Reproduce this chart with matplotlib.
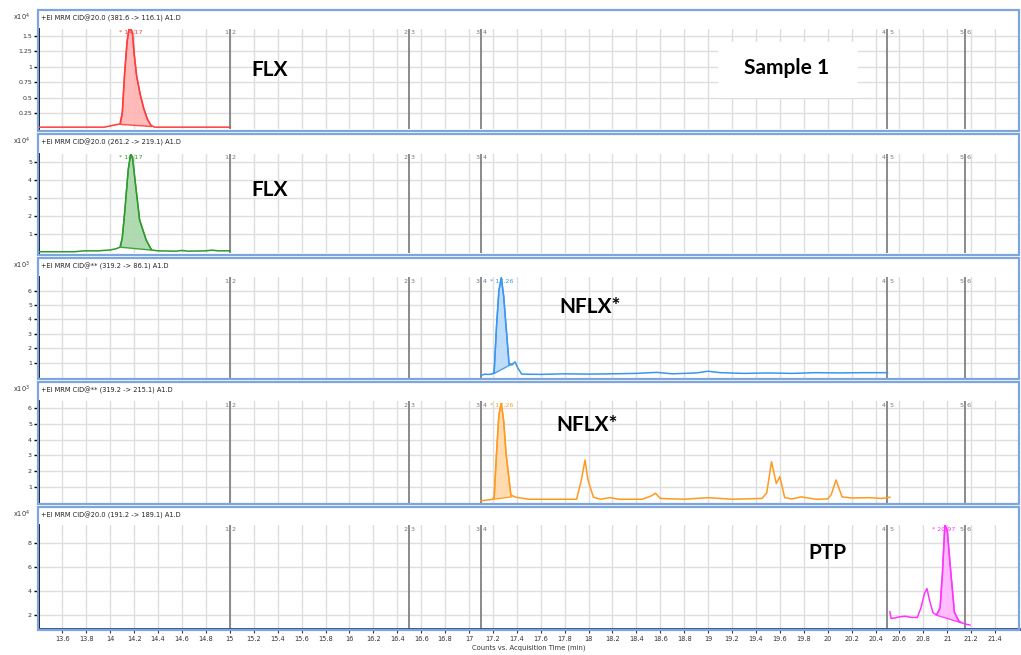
import matplotlib
matplotlib.use("Agg")
import matplotlib.pyplot as plt
from matplotlib.patches import Rectangle

# ---------------- data ----------------
x_ticks = [13.6, 13.8, 14.0, 14.2, 14.4, 14.6, 14.8, 15.0, 15.2, 15.4, 15.6, 15.8,
           16.0, 16.2, 16.4, 16.6, 16.8, 17.0, 17.2, 17.4, 17.6, 17.8, 18.0, 18.2,
           18.4, 18.6, 18.8, 19.0, 19.2, 19.4, 19.6, 19.8, 20.0, 20.2, 20.4, 20.6,
           20.8, 21.0, 21.2, 21.4]
x_tick_labels = ["13.6", "13.8", "14", "14.2", "14.4", "14.6", "14.8", "15", "15.2", "15.4",
                 "15.6", "15.8", "16", "16.2", "16.4", "16.6", "16.8", "17", "17.2", "17.4",
                 "17.6", "17.8", "18", "18.2", "18.4", "18.6", "18.8", "19", "19.2", "19.4",
                 "19.6", "19.8", "20", "20.2", "20.4", "20.6", "20.8", "21", "21.2", "21.4"]

segment_bounds = [15.0, 16.5, 17.1, 20.5, 21.15]
segment_left = ["1", "2", "3", "4", "5"]
segment_right = ["2", "3", "4", "5", "6"]

# Panel 1: FLX 381.6 -> 116.1 (x10^4)
flx1_x = [13.39, 13.6, 13.8, 13.95, 14.0, 14.05, 14.08, 14.10, 14.12, 14.14, 14.155, 14.17,
          14.185, 14.20, 14.22, 14.25, 14.28, 14.31, 14.34, 14.37, 14.5, 14.7, 14.9, 15.0]
flx1_y = [0.02, 0.02, 0.02, 0.02, 0.04, 0.06, 0.07, 0.25, 0.9, 1.4, 1.6, 1.62,
          1.55, 1.2, 0.85, 0.55, 0.32, 0.15, 0.05, 0.02, 0.02, 0.02, 0.02, 0.02]
flx1_fill = [(14.085, 0.065), (14.345, 0.03)]

# Panel 2: FLX 261.2 -> 219.1 (x10^4)
flx2_x = [13.39, 13.7, 13.78, 13.9, 14.0, 14.05, 14.08, 14.10, 14.12, 14.15, 14.17, 14.185,
          14.20, 14.245, 14.30, 14.345, 14.4, 14.55, 14.6, 14.65, 14.8, 14.85, 14.9, 15.0]
flx2_y = [0.03, 0.03, 0.08, 0.08, 0.13, 0.2, 0.28, 0.8, 2.2, 4.6, 5.45, 5.3,
          4.4, 1.8, 0.68, 0.13, 0.08, 0.06, 0.1, 0.06, 0.08, 0.12, 0.08, 0.08]
flx2_fill = [(14.085, 0.28), (14.345, 0.12)]

# Panel 3: NFLX 319.2 -> 86.1 (x10^3)
nflx1_x = [17.10, 17.13, 17.16, 17.19, 17.21, 17.23, 17.25, 17.27, 17.29, 17.31, 17.335, 17.36,
           17.385, 17.41, 17.44, 17.6, 17.8, 18.0, 18.2, 18.4, 18.57, 18.7, 18.9, 19.0,
           19.1, 19.3, 19.5, 19.7, 19.9, 20.1, 20.3, 20.5]
nflx1_y = [0.1, 0.2, 0.18, 0.2, 0.3, 3.5, 6.0, 6.9, 5.6, 3.5, 0.9, 0.85,
           1.05, 0.6, 0.2, 0.18, 0.22, 0.2, 0.22, 0.25, 0.32, 0.22, 0.28, 0.4,
           0.3, 0.25, 0.28, 0.25, 0.3, 0.28, 0.3, 0.3]
nflx1_fill = [(17.205, 0.22), (17.37, 0.95)]

# Panel 4: NFLX 319.2 -> 215.1 (x10^3)
nflx2_x = [17.10, 17.15, 17.19, 17.21, 17.23, 17.25, 17.27, 17.29, 17.31, 17.35, 17.39, 17.5,
           17.7, 17.9, 17.94, 17.97, 17.995, 18.04, 18.1, 18.18, 18.25, 18.45, 18.52, 18.56,
           18.6, 18.8, 19.0, 19.2, 19.45, 19.49, 19.53, 19.57, 19.60, 19.64, 19.7, 19.78,
           19.9, 20.0, 20.03, 20.07, 20.12, 20.2, 20.35, 20.45, 20.52]
nflx2_y = [0.1, 0.15, 0.18, 0.3, 3.1, 5.6, 6.3, 5.2, 3.1, 0.47, 0.33, 0.2,
           0.2, 0.2, 1.43, 2.7, 1.43, 0.33, 0.2, 0.3, 0.2, 0.2, 0.4, 0.58,
           0.25, 0.2, 0.3, 0.2, 0.25, 0.6, 2.6, 1.2, 1.64, 0.3, 0.22, 0.35,
           0.2, 0.22, 0.5, 1.43, 0.35, 0.28, 0.3, 0.25, 0.33]
nflx2_fill = [(17.205, 0.2), (17.36, 0.35)]

# Panel 5: PTP 191.2 -> 189.1 (x10^4)
ptp_x = [20.52, 20.53, 20.56, 20.6, 20.65, 20.7, 20.75, 20.78, 20.81, 20.83, 20.85, 20.88,
         20.91, 20.94, 20.96, 20.98, 21.0, 21.03, 21.06, 21.1, 21.15, 21.19]
ptp_y = [2.27, 1.72, 1.75, 1.85, 1.9, 1.8, 1.8, 2.6, 3.8, 4.2, 3.3, 2.2,
         2.0, 2.6, 5.5, 9.5, 9.0, 5.5, 2.2, 1.45, 1.25, 1.17]
ptp_fill = [(20.905, 2.0), (21.12, 1.35)]

# ---------------- layout / styles ----------------
W, H = 1021, 655
PX_LEFT, PX_RIGHT = 37.5, 1019
XMIN, XMAX = 13.391, 21.6

panels = [
    dict(frame=(10, 131), plot=(29, 129), ylim=(-0.01, 1.61),
         yticks=[0.25, 0.5, 0.75, 1, 1.25, 1.5], ylabels=["0.25", "0.5", "0.75", "1", "1.25", "1.5"],
         exp="4", header="+EI MRM CID@20.0 (381.6 -> 116.1) A1.D",
         x=flx1_x, y=flx1_y, fill=flx1_fill, color="#FF3B3B", fc="#FFB3B3",
         peak=(14.17, "* 14.17"), label=("FLX", 15.33, 0.95)),
    dict(frame=(134, 255), plot=(154, 253), ylim=(-0.04, 5.46),
         yticks=[1, 2, 3, 4, 5], ylabels=["1", "2", "3", "4", "5"],
         exp="4", header="+EI MRM CID@20.0 (261.2 -> 219.1) A1.D",
         x=flx2_x, y=flx2_y, fill=flx2_fill, color="#2E9A2E", fc="#A8D8A8",
         peak=(14.17, "* 14.17"), label=("FLX", 15.33, 3.46)),
    dict(frame=(258, 379), plot=(277, 378), ylim=(-0.07, 6.94),
         yticks=[1, 2, 3, 4, 5, 6], ylabels=["1", "2", "3", "4", "5", "6"],
         exp="3", header="+EI MRM CID@** (319.2 -> 86.1) A1.D",
         x=nflx1_x, y=nflx1_y, fill=nflx1_fill, color="#3A96F0", fc="#B8DAFA",
         peak=(17.27, "* 17.26"), label=("NFLX*", 18.01, 4.86)),
    dict(frame=(382, 504), plot=(401, 503), ylim=(-0.04, 6.46),
         yticks=[1, 2, 3, 4, 5, 6], ylabels=["1", "2", "3", "4", "5", "6"],
         exp="3", header="+EI MRM CID@** (319.2 -> 215.1) A1.D",
         x=nflx2_x, y=nflx2_y, fill=nflx2_fill, color="#FF9A1F", fc="#FFD8A8",
         peak=(17.27, "* 17.26"), label=("NFLX*", 17.99, 4.93)),
    dict(frame=(507, 630), plot=(525, 629), ylim=(0.84, 9.47),
         yticks=[2, 4, 6, 8], ylabels=["2", "4", "6", "8"],
         exp="4", header="+EI MRM CID@20.0 (191.2 -> 189.1) A1.D",
         x=ptp_x, y=ptp_y, fill=ptp_fill, color="#FF33FF", fc="#FFB8FF",
         peak=(20.97, "* 20.97"), label=("PTP", 20.0, 7.14)),
]

FRAME_BLUE = "#7FA5DD"
GRID = "#DEDEDE"
SEG = "#8A8A8A"
BIG_FONT = "Lato"

fig = plt.figure(figsize=(W / 100, H / 100), dpi=100)

def fy(py):
    return 1 - py / H

for i, p in enumerate(panels):
    ftop, fbot = p["frame"]
    ptop, pbot = p["plot"]
    # frame
    fig.add_artist(Rectangle((PX_LEFT / W, fy(fbot)), (PX_RIGHT - PX_LEFT) / W, (fbot - ftop) / H,
                             transform=fig.transFigure, fill=False, edgecolor=FRAME_BLUE, lw=1.6,
                             zorder=5))
    fig.text((PX_LEFT + 3) / W, fy(ftop + 8), p["header"], fontsize=4.8, color="#222222",
             va="center", ha="left", family="DejaVu Sans")
    fig.text(30 / W, fy(ftop + 7), r"x10$^{%s}$" % p["exp"], fontsize=4.8, color="#333333",
             va="center", ha="right", family="DejaVu Sans")

    ax = fig.add_axes([PX_LEFT / W, fy(pbot), (PX_RIGHT - PX_LEFT) / W, (pbot - ptop) / H])
    ax.set_xlim(XMIN, XMAX)
    ax.set_ylim(*p["ylim"])
    for s in ["top", "right", "bottom"]:
        ax.spines[s].set_visible(False)
    ax.spines["left"].set_color("black")
    ax.spines["left"].set_linewidth(2)
    if i == len(panels) - 1:
        ax.spines["bottom"].set_visible(True)
        ax.spines["bottom"].set_color("#1F3F8F")
        ax.spines["bottom"].set_linewidth(2)

    # grid
    for xv in x_ticks:
        ax.axvline(xv, color=GRID, lw=1, zorder=0)
    for yv in p["yticks"]:
        ax.axhline(yv, color=GRID, lw=1, zorder=0)

    ax.set_yticks(p["yticks"])
    ax.set_yticklabels(p["ylabels"])
    ax.tick_params(axis="y", direction="out", length=3, width=1, pad=1, labelsize=4.5,
                   labelcolor="#333333", color="black")
    ax.set_xticks(x_ticks)
    if i == len(panels) - 1:
        ax.set_xticklabels(x_tick_labels)
        ax.tick_params(axis="x", direction="out", length=3, width=0.8, pad=2, labelsize=4.8,
                       labelcolor="#333333", color="#333333")
        ax.set_xlabel("Counts vs. Acquisition Time (min)", fontsize=4.9, color="#333333",
                      labelpad=2)
    else:
        ax.tick_params(axis="x", length=0, labelbottom=False)

    # segment boundaries
    for xb, l, r in zip(segment_bounds, segment_left, segment_right):
        ax.axvline(xb, color=SEG, lw=1.4, zorder=1)
        ax.text(xb - 0.015, 0.985, l, transform=ax.get_xaxis_transform(), fontsize=4.6,
                color="#777777", ha="right", va="top")
        ax.text(xb + 0.015, 0.985, r, transform=ax.get_xaxis_transform(), fontsize=4.6,
                color="#777777", ha="left", va="top")

    # integrated peak fill
    (fx0, fy0), (fx1, fy1) = p["fill"]
    poly_x = [fx0] + [xv for xv in p["x"] if fx0 < xv < fx1] + [fx1]
    poly_y = [fy0] + [yv for xv, yv in zip(p["x"], p["y"]) if fx0 < xv < fx1] + [fy1]
    ax.fill(poly_x, poly_y, facecolor=p["fc"], edgecolor=p["color"], lw=1.0, alpha=0.9,
            zorder=2)
    ax.plot(p["x"], p["y"], color=p["color"], lw=1.1, zorder=3, clip_on=True)

    # peak label
    ax.text(p["peak"][0], 0.985, p["peak"][1], transform=ax.get_xaxis_transform(),
            fontsize=4.6, color=p["color"], ha="center", va="top", zorder=4)

    # big annotation
    t, tx, ty = p["label"]
    ax.text(tx, ty, t, fontsize=15, fontweight="bold", family=BIG_FONT, color="black",
            ha="center", va="center", zorder=6)
    if i == 0:
        ax.add_patch(Rectangle((19.08, 0.49), 1.17, 0.91, facecolor="white", edgecolor="none",
                               zorder=5))
        ax.text(19.66, 0.98, "Sample 1", fontsize=15, fontweight="bold", family=BIG_FONT,
                color="black", ha="center", va="center", zorder=6)

fig.savefig("out.png", dpi=100, facecolor="white")
